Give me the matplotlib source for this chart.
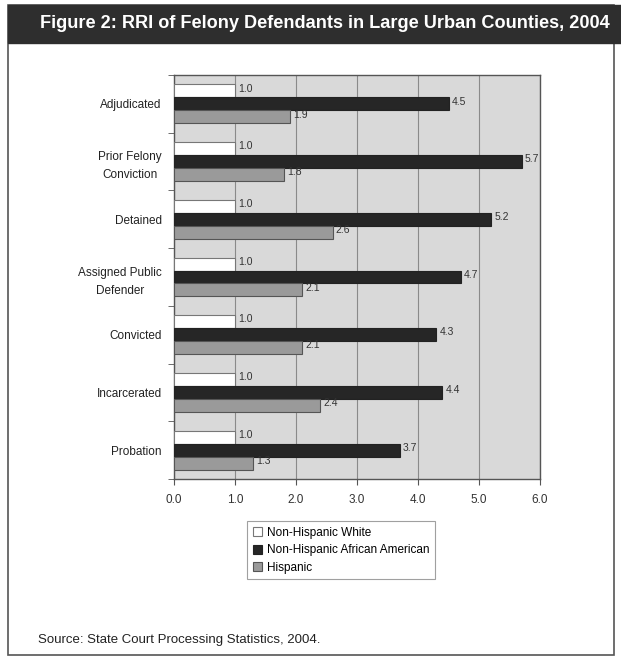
import matplotlib

matplotlib.use("Agg")

import matplotlib.pyplot as plt
from matplotlib.patches import Rectangle

plt.rcParams['font.family'] = ['Liberation Sans', 'DejaVu Sans']

categories = ["Adjudicated", "Prior Felony\nConviction", "Detained",
              "Assigned Public\nDefender", "Convicted", "Incarcerated", "Probation"]
white = [1.0, 1.0, 1.0, 1.0, 1.0, 1.0, 1.0]
black = [4.5, 5.7, 5.2, 4.7, 4.3, 4.4, 3.7]
hispanic = [1.9, 1.8, 2.6, 2.1, 2.1, 2.4, 1.3]
series_names = ["Non-Hispanic White", "Non-Hispanic African American", "Hispanic"]
xticks = [0, 1, 2, 3, 4, 5, 6]

W, H = 621, 656
fig = plt.figure(figsize=(W / 100, H / 100), dpi=100)

# outer frame and title bar (behind the axes)
fig.patches.append(Rectangle((8 / W, 1 - 655 / H), 606 / W, 650 / H, transform=fig.transFigure,
                             facecolor="white", edgecolor="#555555", linewidth=1.2, zorder=-2))
fig.patches.append(Rectangle((8 / W, 1 - 43 / H), 613 / W, 38 / H, transform=fig.transFigure,
                             facecolor="#2e2e2e", edgecolor="#2e2e2e", zorder=-1))
fig.text(325 / W, 1 - 24 / H, "Figure 2: RRI of Felony Defendants in Large Urban Counties, 2004",
         ha="center", va="center", color="white", fontsize=13.1, fontweight="bold")

ax = fig.add_axes([174 / W, 1 - 479 / H, 366 / W, 404 / H])
ax.set_facecolor("#d9d9d9")

n = len(categories)
bh = 0.225
pos = [n - 1 - i for i in range(n)]
colors = ["white", "#262626", "#9a9a9a"]
edges = ["#777777", "#222222", "#555555"]
for k, vals in enumerate([white, black, hispanic]):
    ys = [p + bh * (1 - k) for p in pos]
    ax.barh(ys, vals, height=bh, color=colors[k], edgecolor=edges[k], linewidth=0.8,
            label=series_names[k], zorder=3)
    for y, v in zip(ys, vals):
        ax.text(v + 0.05, y + 0.04, f"{v:.1f}", va="center", ha="left", fontsize=7.5,
                color="#333333", zorder=4)

ax.set_xlim(0, 6)
ax.set_ylim(-0.5, n - 0.5)
ax.set_xticks(xticks)
ax.set_xticklabels([f"{t:.1f}" for t in xticks], fontsize=8.5, color="#333333")
ax.xaxis.grid(True, color="#8a8a8a", linewidth=0.8, zorder=0)
ax.set_yticks(pos)
ax.set_yticklabels(categories, fontsize=8.5, color="#222222", ha="right",
                   multialignment="center", linespacing=1.7)
ax.tick_params(axis="y", length=0, pad=9)
ax.set_yticks([i - 0.5 for i in range(n + 1)], minor=True)
ax.tick_params(axis="y", which="minor", length=4, color="#555555")
ax.tick_params(axis="x", length=4, color="#555555", pad=7)
for s in ax.spines.values():
    s.set_color("#555555")
    s.set_linewidth(1.0)

leg = fig.legend(loc="upper left", bbox_to_anchor=(247 / W, 1 - 521 / H), fontsize=8.5,
                 frameon=True, fancybox=False, handlelength=0.8, handleheight=0.8,
                 handletextpad=0.4, labelspacing=0.45, borderpad=0.5, borderaxespad=0)
leg.get_frame().set_edgecolor("#888888")
leg.get_frame().set_linewidth(0.8)

fig.text(38 / W, 1 - 640 / H, "Source: State Court Processing Statistics, 2004.",
         ha="left", va="center", fontsize=9.5, color="#222222")

fig.savefig("out.png", dpi=100)
plt.close()
